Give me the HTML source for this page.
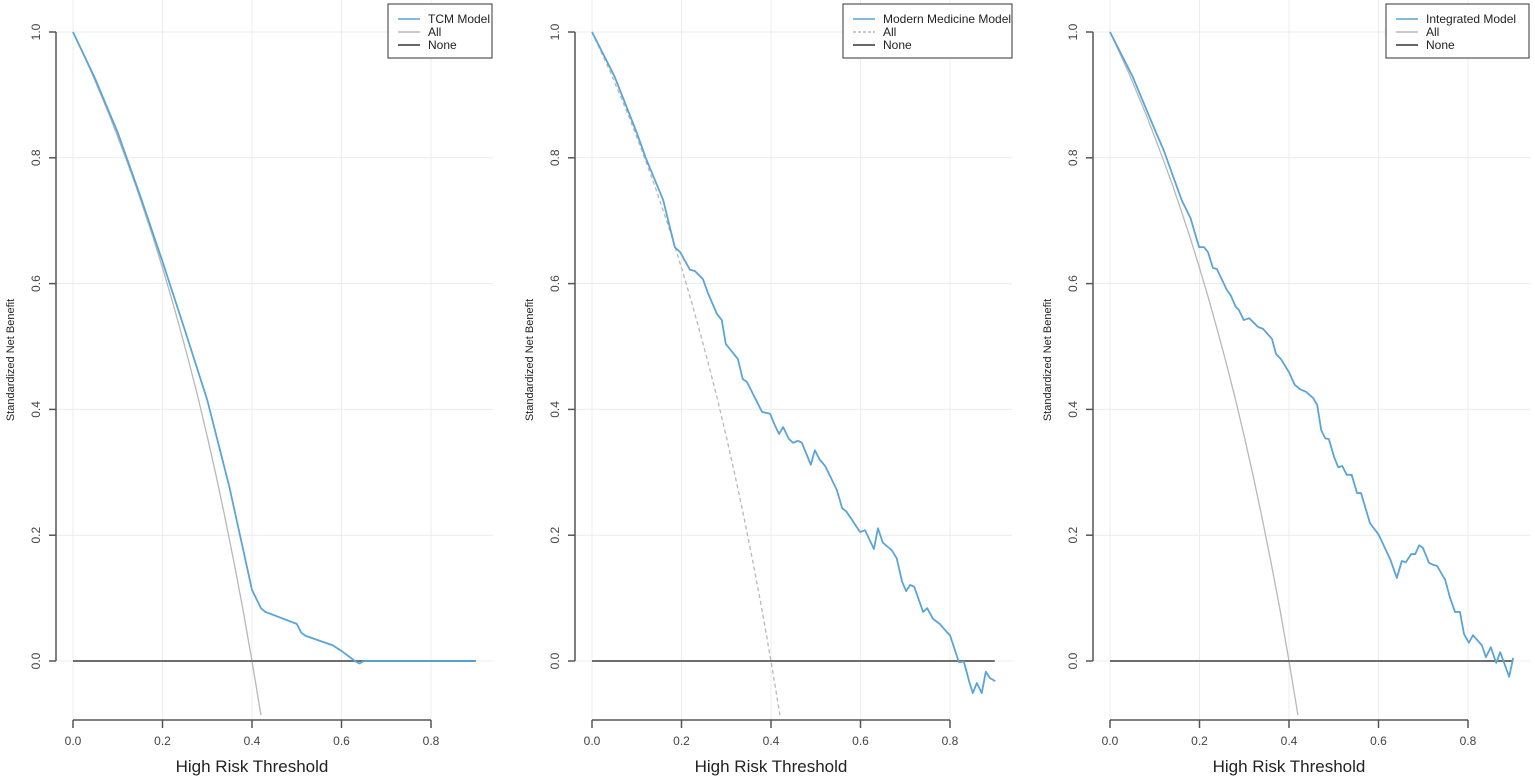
<!DOCTYPE html>
<html><head><meta charset="utf-8"><style>
body{margin:0;background:#fff;}
svg{display:block;font-family:"Liberation Sans",Arial,sans-serif;}
</style></head><body>
<svg id="c" width="1535" height="780"></svg>
<script>
const xTicks=[0,0.2,0.4,0.6,0.8];
const xTickLabels=["0.0","0.2","0.4","0.6","0.8"];
const yTicks=[0,0.2,0.4,0.6,0.8,1.0];
const yTickLabels=["0.0","0.2","0.4","0.6","0.8","1.0"];
const allT=[0,0.02,0.04,0.06,0.08,0.10,0.12,0.14,0.16,0.18,0.20,0.22,0.24,0.26,0.28,0.30,0.32,0.34,0.36,0.38,0.40,0.42];
const allV=[1,0.969,0.938,0.904,0.870,0.833,0.795,0.756,0.714,0.671,0.625,0.577,0.526,0.473,0.417,0.357,0.294,0.227,0.156,0.081,0,-0.086];
const tcmT=[0,0.05,0.10,0.15,0.20,0.25,0.30,0.35,0.40,0.42,0.43,0.50,0.51,0.52,0.58,0.60,0.63,0.64,0.65,0.9];
const tcmV=[1,0.925,0.84,0.74,0.635,0.526,0.415,0.275,0.113,0.084,0.078,0.059,0.045,0.040,0.025,0.016,0,-0.004,0,0];
const mmT=[0,0.05,0.10,0.12,0.159,0.185,0.197,0.219,0.230,0.248,0.259,0.279,0.290,0.299,0.326,0.337,0.346,0.380,0.398,0.409,0.418,0.427,0.440,0.449,0.460,0.469,0.489,0.498,0.509,0.521,0.547,0.559,0.568,0.599,0.610,0.630,0.639,0.650,0.670,0.681,0.693,0.702,0.711,0.720,0.740,0.749,0.762,0.777,0.793,0.800,0.820,0.831,0.843,0.851,0.860,0.871,0.880,0.889,0.901];
const mmV=[1,0.93,0.84,0.80,0.733,0.658,0.650,0.622,0.620,0.607,0.585,0.552,0.542,0.504,0.480,0.448,0.444,0.396,0.393,0.374,0.361,0.372,0.353,0.347,0.350,0.347,0.312,0.335,0.320,0.310,0.272,0.243,0.238,0.205,0.208,0.178,0.211,0.188,0.176,0.163,0.126,0.111,0.121,0.118,0.078,0.084,0.067,0.059,0.046,0.041,-0.002,-0.001,-0.033,-0.051,-0.035,-0.051,-0.017,-0.027,-0.032];
const imT=[0,0.05,0.10,0.12,0.160,0.171,0.180,0.199,0.210,0.219,0.230,0.239,0.261,0.270,0.281,0.288,0.299,0.311,0.331,0.342,0.362,0.371,0.382,0.400,0.413,0.425,0.438,0.454,0.463,0.472,0.481,0.489,0.501,0.510,0.519,0.529,0.540,0.552,0.561,0.581,0.594,0.601,0.626,0.641,0.652,0.661,0.673,0.682,0.691,0.699,0.713,0.722,0.731,0.749,0.760,0.771,0.782,0.791,0.802,0.811,0.831,0.840,0.851,0.863,0.872,0.892,0.901];
const imV=[1,0.93,0.845,0.812,0.733,0.717,0.704,0.658,0.658,0.650,0.625,0.623,0.590,0.581,0.563,0.558,0.542,0.545,0.531,0.528,0.512,0.488,0.480,0.459,0.439,0.432,0.428,0.418,0.407,0.367,0.354,0.353,0.324,0.308,0.310,0.296,0.296,0.267,0.267,0.219,0.207,0.200,0.162,0.132,0.159,0.157,0.170,0.170,0.184,0.180,0.156,0.153,0.151,0.129,0.100,0.078,0.078,0.043,0.029,0.041,0.025,0.006,0.022,-0.003,0.014,-0.025,0.005];

const NS="http://www.w3.org/2000/svg";
const svg=document.getElementById('c');
function mk(tag,attrs,parent){const e=document.createElementNS(NS,tag);for(const k in attrs)e.setAttribute(k,attrs[k]);(parent||svg).appendChild(e);return e;}

const panels=[
 {x0:73,name:'tcm',label:'TCM Model',T:tcmT,V:tcmV,dash:false,leg:[388,4,104,54]},
 {x0:592,name:'modern-medicine',label:'Modern Medicine Model',T:mmT,V:mmV,dash:true,leg:[843,4,169,54]},
 {x0:1110,name:'integrated',label:'Integrated Model',T:imT,V:imV,dash:false,leg:[1386,4,143,54]}
];
const y0=661, yS=629, xS=447.5;
panels.forEach(p=>{
  const g=mk('g',{});
  
  
  const X=t=>p.x0+t*xS, Y=v=>y0-v*yS;
  const right=p.x0+420, bottom=720;
  // grid
  xTicks.forEach(t=>{const l=mk('line',{x1:X(t),x2:X(t),y1:0,y2:bottom,stroke:'#ececec','stroke-width':1},g);
    });
  yTicks.forEach(v=>{const l=mk('line',{x1:p.x0-17,x2:right,y1:Y(v),y2:Y(v),stroke:'#ececec','stroke-width':1},g);
    });
  // clip
  const cid='clip-'+p.name;
  const cp=mk('clipPath',{id:cid},g);mk('rect',{x:p.x0-20,y:0,width:460,height:bottom-p.x0*0+0},cp);
  // all
  const allPts=allT.map((t,i)=>X(t)+','+Y(allV[i])).join(' ');
  const a=mk('polyline',{points:allPts,fill:'none',stroke:'#b8b8b8','stroke-width':1.3,'stroke-dasharray':p.dash?'4,3':'none','clip-path':'url(#'+cid+')'},g);
  
  // none
  const n=mk('line',{x1:X(0),x2:X(0.9),y1:Y(0),y2:Y(0),stroke:'#6e6e6e','stroke-width':2},g);
  
  // model
  const mp=p.T.map((t,i)=>X(t)+','+Y(p.V[i])).join(' ');
  const m=mk('polyline',{points:mp,fill:'none',stroke:'#5aa5d8','stroke-width':1.8,'stroke-linejoin':'round'},g);
  
  // x axis
  const xa=mk('line',{x1:X(0),x2:X(0.8),y1:bottom,y2:bottom,stroke:'#555','stroke-width':1.5},g);
  
  xTicks.forEach((t,i)=>{mk('line',{x1:X(t),x2:X(t),y1:bottom,y2:bottom+8,stroke:'#555','stroke-width':1.5},g);
    const tx=mk('text',{x:X(t),y:bottom+25,'text-anchor':'middle','font-size':12,fill:'#444'},g);tx.textContent=xTickLabels[i];
    });
  const xt=mk('text',{x:X(0.4),y:772,'text-anchor':'middle','font-size':17,fill:'#222'},g);xt.textContent='High Risk Threshold';
  
  // y axis
  const ax=p.x0-17;
  const ya=mk('line',{x1:ax,x2:ax,y1:Y(0),y2:Y(1),stroke:'#555','stroke-width':1.5},g);
  
  yTicks.forEach((v,i)=>{mk('line',{x1:ax-7,x2:ax,y1:Y(v),y2:Y(v),stroke:'#555','stroke-width':1.5},g);
    const tx=mk('text',{x:ax-16,y:Y(v),'text-anchor':'middle','font-size':12,fill:'#444',transform:'rotate(-90 '+(ax-16)+' '+Y(v)+')'},g);tx.textContent=yTickLabels[i];
    });
  const yt=mk('text',{x:ax-42,y:360,'text-anchor':'middle','font-size':11,fill:'#222',transform:'rotate(-90 '+(ax-42)+' 360)'},g);yt.textContent='Standardized Net Benefit';
  
  // legend
  const [lx,ly,lw,lh]=p.leg;
  const lg=mk('g',{},g);
  
  mk('rect',{x:lx,y:ly,width:lw,height:lh,fill:'#fff',stroke:'#333','stroke-width':1},lg);
  const items=[[p.label,'#5aa5d8',false],['All','#b8b8b8',p.dash],['None','#333',false]];
  items.forEach((it,i)=>{const yy=ly+15+i*13;
    mk('line',{x1:lx+10,x2:lx+32,y1:yy,y2:yy,stroke:it[1],'stroke-width':1.5,'stroke-dasharray':it[2]?'3,2':'none'},lg);
    const tx=mk('text',{x:lx+40,y:yy+4,'font-size':12,fill:'#222'},lg);tx.textContent=it[0];
    });
});
</script>
</body></html>
